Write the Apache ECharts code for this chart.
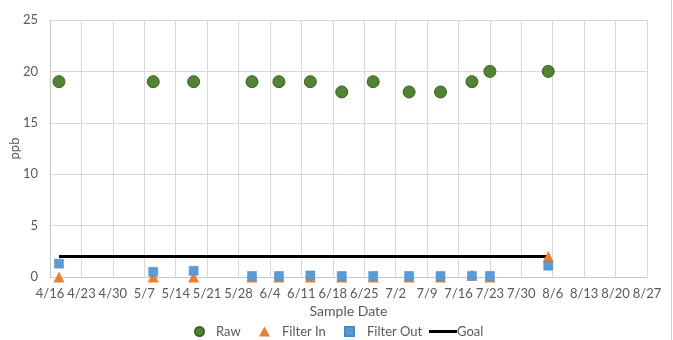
<!DOCTYPE html>
<html>
<head>
<meta charset="utf-8">
<script src="https://cdn.jsdelivr.net/npm/echarts@6/dist/echarts.min.js"></script>
<style>
  html, body { margin: 0; padding: 0; background: #fff; }
  #chart { width: 673px; height: 340px; }
</style>
</head>
<body>
<div id="chart"></div>
<script>
// Sampling dates and measured concentrations (ppb)
const sampleDates = ['2019-04-18', '2019-05-09', '2019-05-18', '2019-05-31', '2019-06-06', '2019-06-13',
  '2019-06-20', '2019-06-27', '2019-07-05', '2019-07-12', '2019-07-19', '2019-07-23', '2019-08-05'];
const rawValues = [19, 19, 19, 19, 19, 19, 18, 19, 18, 18, 19, 20, 20];
const filterInValues = [0, 0, 0, 0, 0, 0, 0, 0, 0, 0, 0.2, 0, 2];
const filterOutValues = [1.3, 0.5, 0.6, 0.1, 0.1, 0.15, 0.1, 0.1, 0.1, 0.1, 0.1, 0.1, 1.1];
const goalDates = ['2019-04-18', '2019-08-05'];
const goalValues = [2, 2];

// Axis range: weekly ticks from 4/16 to 8/27
const axisStart = '2019-04-16';
const axisEnd = '2019-08-27';
const yTicks = [0, 5, 10, 15, 20, 25];

const DAY = 86400000;
const t0 = Date.UTC(2019, 3, 16);
function dayOffset(s) {
  const [y, m, d] = s.split('-').map(Number);
  return Math.round((Date.UTC(y, m - 1, d) - t0) / DAY);
}
function labelFor(off) {
  const dt = new Date(t0 + off * DAY);
  return (dt.getUTCMonth() + 1) + '/' + dt.getUTCDate();
}
function pairs(dates, vals) {
  return dates.map((d, i) => [dayOffset(d), vals[i]]);
}

const FONT = 'Lato';
const TXT = '#595959';

const chart = echarts.init(document.getElementById('chart'));

const legendBase = {
  top: 325,
  padding: 0,
  orient: 'horizontal',
  textStyle: { color: TXT, fontFamily: FONT, fontSize: 13 },
  selectedMode: false
};
function legendText(padLeft) {
  return Object.assign({}, legendBase.textStyle, { padding: [0, 0, 0, padLeft] });
}

chart.setOption({
  animation: false,
  backgroundColor: '#ffffff',
  textStyle: { fontFamily: FONT },
  grid: { left: 50, right: 26, top: 20, bottom: 63, containLabel: false, outerBoundsMode: 'none' },
  xAxis: {
    type: 'value',
    min: dayOffset(axisStart),
    max: dayOffset(axisEnd),
    interval: 7,
    name: 'Sample Date',
    nameLocation: 'middle',
    nameGap: 27,
    nameMoveOverlap: false,
    nameTextStyle: { color: TXT, fontSize: 14, fontFamily: FONT },
    axisLine: { show: true, lineStyle: { color: '#c8c8c8', width: 1 } },
    axisTick: { show: false },
    axisLabel: { color: TXT, fontSize: 13, margin: 10, formatter: v => labelFor(v) },
    splitLine: { show: true, lineStyle: { color: '#d9d9d9', width: 1 } }
  },
  yAxis: {
    type: 'value',
    min: yTicks[0],
    max: yTicks[yTicks.length - 1],
    interval: yTicks[1] - yTicks[0],
    name: 'ppb',
    nameLocation: 'middle',
    nameGap: 29,
    nameRotate: 90,
    nameMoveOverlap: false,
    nameTextStyle: { color: TXT, fontSize: 13, fontFamily: FONT },
    axisLine: { show: true, lineStyle: { color: '#c8c8c8', width: 1 } },
    axisTick: { show: false },
    axisLabel: { color: TXT, fontSize: 13, margin: 12 },
    splitLine: { show: true, lineStyle: { color: '#d9d9d9', width: 1 } }
  },
  legend: [
    Object.assign({}, legendBase, {
      left: 194, data: [{ name: 'Raw', icon: 'circle' }],
      itemWidth: 9, itemHeight: 9, textStyle: legendText(7)
    }),
    Object.assign({}, legendBase, {
      left: 259, data: [{ name: 'Filter In', icon: 'triangle' }],
      itemWidth: 11, itemHeight: 10, textStyle: legendText(7)
    }),
    Object.assign({}, legendBase, {
      left: 344, data: [{ name: 'Filter Out', icon: 'rect' }],
      itemWidth: 9, itemHeight: 9, textStyle: legendText(8)
    }),
    Object.assign({}, legendBase, {
      left: 429, data: [{ name: 'Goal', icon: 'rect' }],
      itemWidth: 28, itemHeight: 3, textStyle: legendText(-5)
    })
  ],
  graphic: [{
    type: 'line',
    shape: { x1: 671.5, y1: 0, x2: 671.5, y2: 340 },
    style: { stroke: '#d0d0d0', lineWidth: 1 },
    silent: true
  }],
  series: [
    {
      name: 'Raw',
      type: 'scatter',
      symbol: 'circle',
      symbolSize: 12,
      itemStyle: { color: '#548235', borderColor: '#3b6124', borderWidth: 1, opacity: 1 },
      data: pairs(sampleDates, rawValues),
      z: 3
    },
    {
      name: 'Filter In',
      type: 'scatter',
      symbol: 'triangle',
      symbolSize: [11, 11],
      itemStyle: { color: '#ed7d31', opacity: 1 },
      data: pairs(sampleDates, filterInValues),
      z: 3
    },
    {
      name: 'Filter Out',
      type: 'scatter',
      symbol: 'rect',
      symbolSize: 9,
      itemStyle: { color: '#5b9bd5', borderColor: '#4a89c2', borderWidth: 0.5, opacity: 1 },
      data: pairs(sampleDates, filterOutValues),
      z: 4
    },
    {
      name: 'Goal',
      type: 'line',
      symbol: 'none',
      lineStyle: { color: '#000000', width: 3 },
      itemStyle: { color: '#000000' },
      data: pairs(goalDates, goalValues),
      z: 2
    }
  ]
});
</script>
</body>
</html>
